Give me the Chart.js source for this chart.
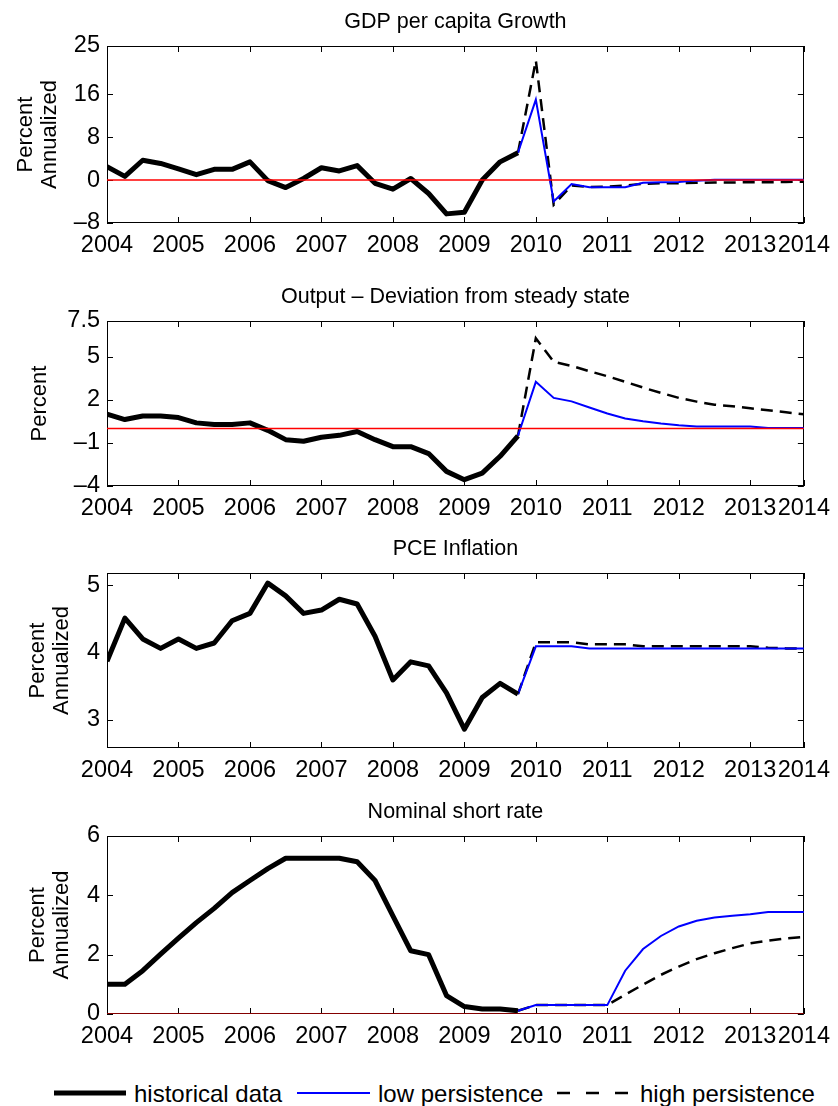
<!DOCTYPE html>
<html>
<head>
<meta charset="utf-8">
<title>Forecast panels</title>
<script src="https://cdn.jsdelivr.net/npm/chart.js@4.4.0/dist/chart.umd.min.js"></script>
<style>
  body { margin: 0; background: #fff; width: 838px; height: 1106px; position: relative; overflow: hidden;
         font-family: "Liberation Sans", Arial, Helvetica, sans-serif; }
  .panel { position: absolute; left: 0; width: 838px; }
  #legend { position: absolute; left: 0; top: 1079px; width: 838px; height: 30px; }
  #legend span { position: absolute; top: 0; line-height: 30px; font-size: 24px; color: #000; white-space: nowrap; }
</style>
</head>
<body>
<div class="panel" style="top:6px;height:257px"><canvas id="gdpChart"></canvas></div>
<div class="panel" style="top:281px;height:245px"><canvas id="outputChart"></canvas></div>
<div class="panel" style="top:533px;height:255px"><canvas id="pceChart"></canvas></div>
<div class="panel" style="top:796px;height:258px"><canvas id="rateChart"></canvas></div>

<div id="legend">
  <svg width="838" height="30" style="position:absolute;left:0;top:0">
    <line x1="54" y1="14" x2="126" y2="14" stroke="#000" stroke-width="5"/>
    <line x1="297" y1="14" x2="370" y2="14" stroke="#0000ff" stroke-width="2"/>
    <line x1="557" y1="14" x2="629" y2="14" stroke="#000" stroke-width="2.5" stroke-dasharray="13 16"/>
  </svg>
  <span style="left:134px">historical data</span>
  <span style="left:378px">low persistence</span>
  <span style="left:640px">high persistence</span>
</div>

<script>
// quarterly dates
const histDates = [2004, 2004.25, 2004.5, 2004.75, 2005, 2005.25, 2005.5, 2005.75,
                   2006, 2006.25, 2006.5, 2006.75, 2007, 2007.25, 2007.5, 2007.75,
                   2008, 2008.25, 2008.5, 2008.75, 2009, 2009.25, 2009.5, 2009.75];
const fcstDates = [2009.75, 2010, 2010.25, 2010.5, 2010.75, 2011, 2011.25, 2011.5, 2011.75,
                   2012, 2012.25, 2012.5, 2012.75, 2013, 2013.25, 2013.5, 2013.75];

// x axis ticks (last one sits on the right edge but is labelled 2014)
const xTicks = [2004, 2005, 2006, 2007, 2008, 2009, 2010, 2011, 2012, 2013, 2013.75];
const xTickLabels = ['2004', '2005', '2006', '2007', '2008', '2009', '2010', '2011', '2012', '2013', '2014'];

// GDP per capita growth
const gdpHist = [2.5, 0.7, 3.7, 3.1, 2.1, 1.0, 2.0, 2.0, 3.4, -0.1, -1.4, 0.3,
                 2.3, 1.7, 2.7, -0.6, -1.7, 0.3, -2.5, -6.3, -6.0, 0.0, 3.4, 5.1];
const gdpLow = [5.1, 15.0, -4.0, -0.75, -1.35, -1.35, -1.35, -0.5, -0.4,
                -0.35, -0.1, 0.05, 0.05, 0.05, 0.05, 0.05, 0.05];
const gdpHigh = [5.1, 22.3, -4.6, -1.0, -1.3, -1.2, -1.0, -0.7, -0.6,
                 -0.6, -0.5, -0.45, -0.45, -0.4, -0.4, -0.35, -0.3];
const gdpTicks = [-8, 0, 8, 16, 25];
const gdpTickLabels = ['\u20138', '0', '8', '16', '25'];

// Output deviation from steady state
const outputHist = [1.0, 0.63, 0.88, 0.88, 0.77, 0.4, 0.28, 0.28, 0.4, -0.12, -0.77, -0.88,
                    -0.6, -0.47, -0.2, -0.77, -1.26, -1.26, -1.74, -2.98, -3.56, -3.1, -1.93, -0.5];
const outputLow = [-0.5, 3.26, 2.14, 1.9, 1.47, 1.05, 0.7, 0.51, 0.35,
                   0.23, 0.14, 0.14, 0.14, 0.14, 0.05, 0.05, 0.05];
const outputHigh = [-0.5, 6.3, 4.65, 4.37, 4.0, 3.65, 3.26, 2.86, 2.49,
                    2.14, 1.88, 1.67, 1.56, 1.42, 1.28, 1.14, 1.0];
const outputTicks = [-4, -1, 2, 5, 7.5];
const outputTickLabels = ['\u20134', '\u20131', '2', '5', '7.5'];

// PCE inflation
const pceHist = [3.87, 4.51, 4.2, 4.06, 4.2, 4.06, 4.14, 4.47, 4.58, 5.03, 4.84, 4.58,
                 4.63, 4.79, 4.72, 4.24, 3.59, 3.86, 3.8, 3.4, 2.86, 3.33, 3.54, 3.38];
const pceLow = [3.38, 4.09, 4.09, 4.09, 4.06, 4.06, 4.06, 4.06, 4.06,
                4.06, 4.06, 4.06, 4.06, 4.06, 4.06, 4.06, 4.06];
const pceHigh = [3.38, 4.15, 4.15, 4.15, 4.12, 4.12, 4.12, 4.09, 4.09,
                 4.09, 4.09, 4.09, 4.09, 4.09, 4.07, 4.06, 4.06];
const pceTicks = [3, 4, 5];
const pceTickLabels = ['3', '4', '5'];

// Nominal short rate
const rateHist = [1.0, 1.0, 1.46, 2.02, 2.56, 3.08, 3.56, 4.09, 4.5, 4.9, 5.25, 5.25,
                  5.25, 5.25, 5.13, 4.5, 3.31, 2.13, 2.0, 0.62, 0.25, 0.17, 0.17, 0.11];
const rateLow = [0.11, 0.3, 0.3, 0.3, 0.3, 0.3, 1.46, 2.19, 2.63,
                 2.95, 3.14, 3.25, 3.31, 3.36, 3.44, 3.44, 3.44];
const rateHigh = [0.11, 0.3, 0.3, 0.3, 0.3, 0.3, 0.65, 0.99, 1.32,
                  1.6, 1.85, 2.05, 2.22, 2.38, 2.47, 2.55, 2.6];
const rateTicks = [0, 2, 4, 6];
const rateTickLabels = ['0', '2', '4', '6'];

Chart.defaults.font.family = '"Liberation Sans", Arial, Helvetica, sans-serif';
Chart.defaults.color = '#000';

const toPoints = (xs, ys) => xs.map((x, i) => ({ x: x, y: ys[i] }));

// box around the plot with inward tick marks on all four sides (drawn under the data)
const boxTicks = {
    id: 'boxTicks',
    beforeDatasetsDraw(chart) {
        const { ctx, chartArea: a, scales: { x, y } } = chart;
        const len = 6;
        ctx.save();
        ctx.strokeStyle = '#000';
        ctx.lineWidth = 1;
        ctx.beginPath();
        x.ticks.forEach(t => {
            const px = Math.round(x.getPixelForValue(t.value)) + 0.5;
            ctx.moveTo(px, a.bottom); ctx.lineTo(px, a.bottom - len);
            ctx.moveTo(px, a.top); ctx.lineTo(px, a.top + len);
        });
        y.ticks.forEach(t => {
            const py = Math.round(y.getPixelForValue(t.value)) + 0.5;
            ctx.moveTo(a.left, py); ctx.lineTo(a.left + len, py);
            ctx.moveTo(a.right, py); ctx.lineTo(a.right - len, py);
        });
        ctx.stroke();
        ctx.strokeRect(Math.round(a.left) + 0.5, Math.round(a.top) + 0.5,
                       Math.round(a.right - a.left) - 1, Math.round(a.bottom - a.top) - 1);
        ctx.restore();
    }
};

function makePanel(id, cfg) {
    const datasets = [];
    if (cfg.zeroLine) {
        datasets.push({
            data: [{ x: 2004, y: 0 }, { x: 2013.75, y: 0 }],
            borderColor: cfg.zeroColor || '#ff0000',
            borderWidth: 1.5
        });
    }
    datasets.push({
        label: 'historical data',
        data: toPoints(histDates, cfg.hist),
        borderColor: '#000',
        borderWidth: 5,
        borderJoinStyle: 'round'
    });
    datasets.push({
        label: 'low persistence',
        data: toPoints(fcstDates, cfg.low),
        borderColor: '#0000ff',
        borderWidth: 2
    });
    datasets.push({
        label: 'high persistence',
        data: toPoints(fcstDates, cfg.high),
        borderColor: '#000',
        borderWidth: 2.5,
        borderDash: [12, 7]
    });

    return new Chart(document.getElementById(id).getContext('2d'), {
        type: 'line',
        data: { datasets: datasets },
        options: {
            responsive: true,
            maintainAspectRatio: false,
            animation: false,
            elements: { point: { radius: 0 }, line: { tension: 0 } },
            layout: { padding: { left: 0, right: 29, top: 0, bottom: 0 } },
            plugins: {
                legend: { display: false },
                tooltip: { enabled: false },
                title: {
                    display: true,
                    fullSize: false,
                    text: cfg.title,
                    color: '#000',
                    font: { size: 21.5, weight: 'normal', lineHeight: 1.2 },
                    padding: { top: 3.4, bottom: 10.8 }
                }
            },
            scales: {
                x: {
                    type: 'linear',
                    min: 2004,
                    max: 2013.75,
                    grid: { display: false, drawTicks: false },
                    border: { display: false },
                    afterBuildTicks: axis => { axis.ticks = xTicks.map(v => ({ value: v })); },
                    afterFit: axis => { axis.height = 40; },
                    ticks: {
                        autoSkip: false,
                        maxRotation: 0,
                        minRotation: 0,
                        padding: 8,
                        font: { size: 23.5 },
                        callback: (value, index) => xTickLabels[index]
                    }
                },
                y: {
                    type: 'linear',
                    min: cfg.yMin,
                    max: cfg.yMax,
                    grid: { display: false, drawTicks: false },
                    border: { display: false },
                    afterBuildTicks: axis => { axis.ticks = cfg.yTicks.map(v => ({ value: v })); },
                    afterFit: axis => { axis.width = 107; },
                    ticks: {
                        padding: 7,
                        font: { size: 23.5 },
                        callback: (value, index) => cfg.yTickLabels[index]
                    },
                    title: {
                        display: true,
                        text: cfg.yTitle,
                        color: '#000',
                        font: { size: 22, lineHeight: 1.1 },
                        padding: { top: cfg.yTitlePad, bottom: 0 }
                    }
                }
            }
        },
        plugins: [boxTicks]
    });
}

makePanel('gdpChart', {
    title: 'GDP per capita Growth',
    yTitle: ['Percent', 'Annualized'], yTitlePad: 14,
    yMin: -8, yMax: 25, yTicks: gdpTicks, yTickLabels: gdpTickLabels,
    hist: gdpHist, low: gdpLow, high: gdpHigh, zeroLine: true
});

makePanel('outputChart', {
    title: 'Output \u2013 Deviation from steady state',
    yTitle: 'Percent', yTitlePad: 28,
    yMin: -4, yMax: 7.5, yTicks: outputTicks, yTickLabels: outputTickLabels,
    hist: outputHist, low: outputLow, high: outputHigh, zeroLine: true
});

makePanel('pceChart', {
    title: 'PCE Inflation',
    yTitle: ['Percent', 'Annualized'], yTitlePad: 26,
    yMin: 2.58, yMax: 5.18, yTicks: pceTicks, yTickLabels: pceTickLabels,
    hist: pceHist, low: pceLow, high: pceHigh, zeroLine: false
});

makePanel('rateChart', {
    title: 'Nominal short rate',
    yTitle: ['Percent', 'Annualized'], yTitlePad: 26,
    yMin: 0, yMax: 6, yTicks: rateTicks, yTickLabels: rateTickLabels,
    hist: rateHist, low: rateLow, high: rateHigh, zeroLine: true, zeroColor: '#b00000'
});
</script>
</body>
</html>
